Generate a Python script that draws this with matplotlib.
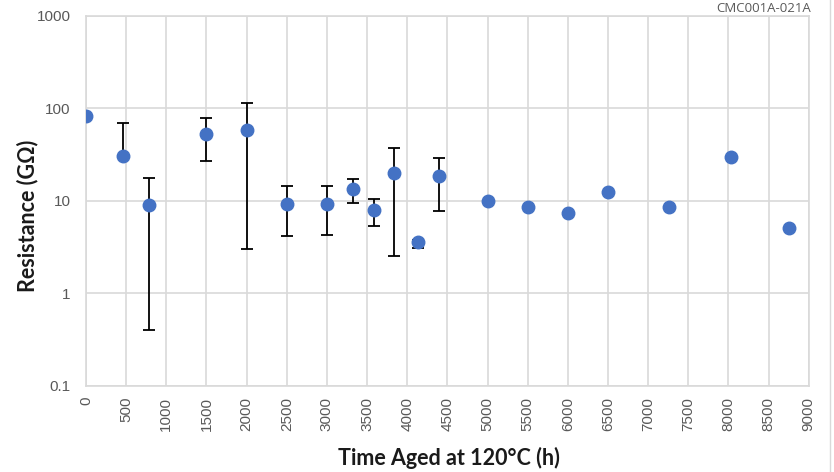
import numpy as np
import matplotlib
matplotlib.use("Agg")
import matplotlib.pyplot as plt
import matplotlib.ticker as ticker
from matplotlib.lines import Line2D

# data
hours = [0, 460, 790, 1500, 2000, 2500, 3000, 3330, 3590, 3840, 4140, 4400,
         5000, 5500, 6000, 6500, 7260, 8030, 8760]
resistance = [82, 30.3, 9.0, 52.5, 57.5, 9.3, 9.3, 13.3, 7.9, 19.8, 3.55, 18.4,
              10.0, 8.5, 7.3, 12.3, 8.6, 29.3, 5.1]
err_low = [0, 0, 8.6, 26.0, 54.5, 5.2, 5.1, 3.8, 2.6, 17.3, 0.5, 10.6,
           0, 0, 0, 0, 0, 0, 0]
err_high = [0, 38.6, 8.4, 26.0, 54.5, 5.2, 5.1, 3.9, 2.6, 17.3, 0.2, 10.6,
            0, 0, 0, 0, 0, 0, 0]
x_ticks = list(range(0, 9001, 500))
y_ticks = [0.1, 1, 10, 100, 1000]

blue = '#4472C4'
grid_col = '#D9D9D9'
text_col = '#595959'

fig = plt.figure(figsize=(8.34, 4.72), dpi=100)
ax = fig.add_axes([86 / 834, 1 - 385.7 / 472, (808.7 - 86) / 834, (385.7 - 15.5) / 472])

hours = np.array(hours)
resistance = np.array(resistance)
err_low = np.array(err_low)
err_high = np.array(err_high)
has_err = (err_low + err_high) > 0
ax.errorbar(hours[has_err], resistance[has_err],
            yerr=[err_low[has_err], err_high[has_err]],
            fmt='none', ecolor='black', elinewidth=1.3, capsize=4, capthick=1.3, zorder=2)
ax.plot(hours, resistance, 'o', color=blue, markersize=9, zorder=3)

ax.set_yscale('log')
ax.set_ylim(0.1, 1000)
ax.set_xlim(0, 9000)
ax.set_xticks(x_ticks)
ax.set_yticks(y_ticks)
ax.yaxis.set_major_formatter(ticker.FuncFormatter(lambda v, p: f'{v:g}'))
ax.yaxis.set_minor_locator(ticker.NullLocator())
ax.tick_params(axis='x', labelrotation=90, pad=8)
ax.tick_params(axis='y', pad=11)
ax.tick_params(length=0, labelsize=11, labelcolor=text_col)
for lab in ax.get_xticklabels() + ax.get_yticklabels():
    lab.set_family('Liberation Sans')

ax.grid(True, color=grid_col, linewidth=1.2)
ax.set_axisbelow(True)
for s in ax.spines.values():
    s.set_color(grid_col)
    s.set_linewidth(1.2)

ax.set_xlabel('Time Aged at 120°C (h)', fontsize=15.5, fontweight='bold',
              family='Lato', color='#1a1a1a')
ax.xaxis.set_label_coords(449 / 834, 1 - 458 / 472, transform=fig.transFigure)
ax.xaxis.label.set_va('center')
ax.set_ylabel('Resistance (GΩ)', fontsize=15.5, fontweight='bold',
              family='Lato', color='#1a1a1a')
ax.yaxis.set_label_coords(27.5 / 834, 1 - 216 / 472, transform=fig.transFigure)
ax.yaxis.label.set_va('center')

fig.text(811 / 834, 1 - 8 / 472, 'CMC001A-021A', ha='right', va='center',
         fontsize=9.5, color=text_col, family='Open Sans')
fig.add_artist(Line2D([830 / 834, 830 / 834], [0, 1], color=grid_col, linewidth=1))

fig.savefig('out.png', dpi=100)
